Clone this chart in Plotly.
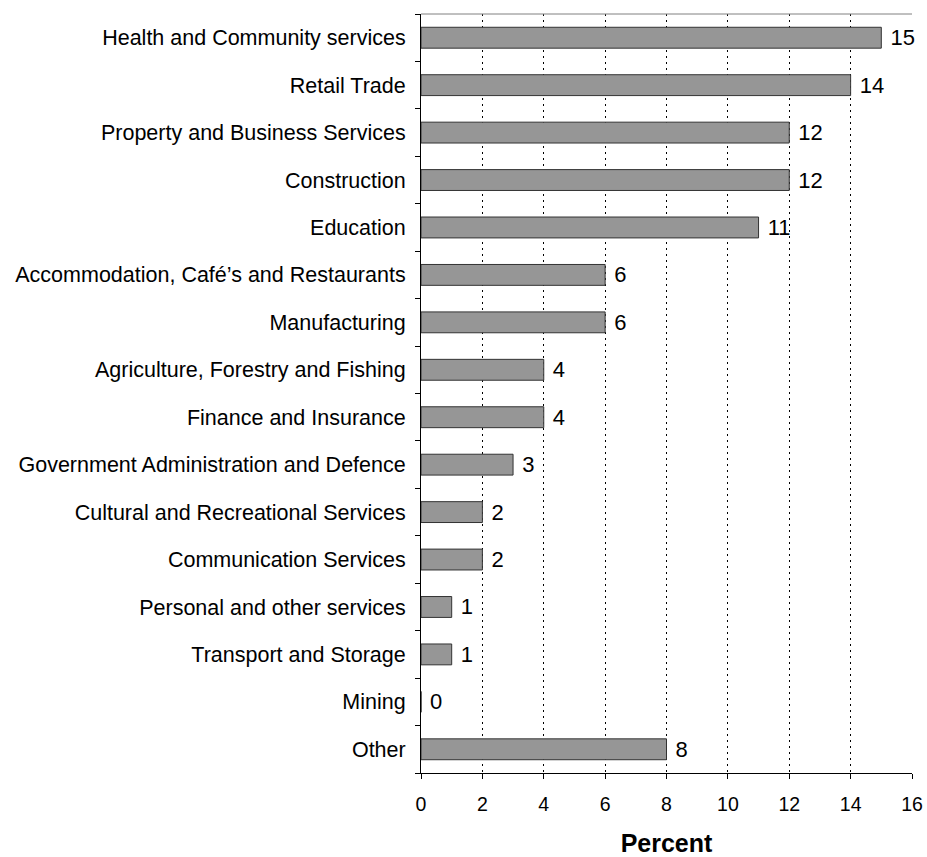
import plotly.graph_objects as go

categories = [
    "Health and Community services",
    "Retail Trade",
    "Property and Business Services",
    "Construction",
    "Education",
    "Accommodation, Café’s and Restaurants",
    "Manufacturing",
    "Agriculture, Forestry and Fishing",
    "Finance and Insurance",
    "Government Administration and Defence",
    "Cultural and Recreational Services",
    "Communication Services",
    "Personal and other services",
    "Transport and Storage",
    "Mining",
    "Other",
]
values = [15, 14, 12, 12, 11, 6, 6, 4, 4, 3, 2, 2, 1, 1, 0, 8]
x_ticks = [0, 2, 4, 6, 8, 10, 12, 14, 16]

FONT = "Liberation Sans, Arial, sans-serif"

fig = go.Figure()
fig.add_trace(go.Bar(
    y=categories,
    x=values,
    orientation="h",
    width=0.44,
    marker=dict(color="#969696", line=dict(color="#333333", width=1)),
    text=[" " + str(v) for v in values],
    textposition="outside",
    constraintext="none",
    textfont=dict(family=FONT, size=22, color="black"),
    cliponaxis=False,
))

fig.update_layout(
    template="none",
    width=927,
    height=857,
    margin=dict(l=421, r=15, t=14, b=84, autoexpand=False),
    plot_bgcolor="white",
    paper_bgcolor="white",
    showlegend=False,
    font=dict(family=FONT, color="black"),
    xaxis=dict(
        automargin=False,
        range=[0, 16],
        tickvals=x_ticks,
        ticks="outside",
        ticklen=5,
        tickcolor="black",
        showline=True,
        linecolor="black",
        linewidth=1,
        showgrid=True,
        gridcolor="black",
        griddash="2px,4px",
        gridwidth=1,
        zeroline=False,
        tickfont=dict(size=19.5),
        ticklabelstandoff=9,
        title=dict(text="<b>Percent</b>", font=dict(size=25), standoff=26),
    ),
    yaxis=dict(
        automargin=False,
        categoryorder="array",
        categoryarray=categories[::-1],
        autorange=False,
        range=[-0.5, len(categories) - 0.5],
        ticks="outside",
        tickson="boundaries",
        ticklen=5,
        tickcolor="black",
        showline=True,
        linecolor="black",
        linewidth=1,
        showgrid=False,
        zeroline=False,
        tickfont=dict(size=21.5),
        ticklabelstandoff=10,
    ),
    shapes=[
        dict(type="line", xref="paper", yref="paper", x0=0, x1=1, y0=1, y1=1,
             line=dict(color="#808080", width=1)),
    ],
)

fig.write_html(
    "out.html",
    config={"displayModeBar": False},
    post_script="document.body.style.margin='0';document.body.style.overflow='hidden';",
)
